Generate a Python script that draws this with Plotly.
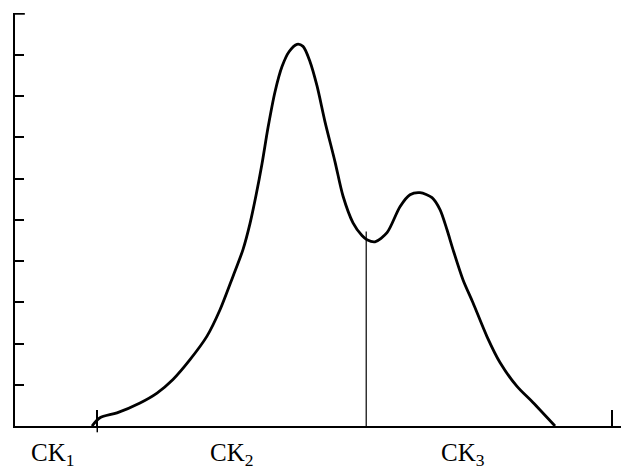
import plotly.graph_objects as go

# curve (arbitrary x units 0..100, y in tick units 0..10)
curve_x = [12.54, 13.84, 16.61, 20.36, 23.13, 25.73, 28.50, 31.27, 33.39, 35.50, 37.13,
           38.27, 39.25, 40.23, 41.21, 42.35, 43.49, 44.63, 45.93, 46.91, 48.05, 49.19,
           50.49, 52.12, 53.42, 55.05, 56.51, 57.33, 58.63, 60.59, 62.70, 64.33, 65.96,
           67.92, 69.22, 70.36, 71.34, 72.96, 74.59, 76.87, 78.99, 81.76, 84.36, 87.95]
curve_y = [0.0, 0.20, 0.32, 0.56, 0.80, 1.13, 1.61, 2.18, 2.82, 3.63, 4.28,
           4.91, 5.59, 6.36, 7.24, 8.11, 8.72, 9.08, 9.26, 9.21, 8.84, 8.25,
           7.38, 6.41, 5.58, 4.93, 4.62, 4.52, 4.47, 4.69, 5.32, 5.61, 5.66,
           5.54, 5.25, 4.76, 4.28, 3.55, 2.99, 2.17, 1.54, 0.96, 0.57, 0.0]

divider_x = [57.2, 57.2]
divider_y = [0.0, 4.72]

x_tick_vals = [13.4, 97.2]
y_tick_vals = [1, 2, 3, 4, 5, 6, 7, 8, 9, 10]

labels = ["CK<sub>1</sub>", "CK<sub>2</sub>", "CK<sub>3</sub>"]
label_x = [2.3, 31.4, 69.0]

y_top = y_tick_vals[-1]

fig = go.Figure()
fig.add_trace(go.Scatter(x=curve_x, y=curve_y, mode="lines",
                         line=dict(color="black", width=2.8, shape="spline", smoothing=0.8),
                         cliponaxis=False, hoverinfo="skip"))
fig.add_trace(go.Scatter(x=divider_x, y=divider_y, mode="lines",
                         line=dict(color="black", width=1.2), hoverinfo="skip"))
fig.add_trace(go.Scatter(x=x_tick_vals[:1], y=[0], mode="markers",
                         marker=dict(symbol="line-ns", size=9, line=dict(color="black", width=1.5)),
                         cliponaxis=False, hoverinfo="skip"))
# top end tick of the y axis (plotly drops the tick at the very end of the axis)
fig.add_trace(go.Scatter(x=[0, 1.6], y=[y_top, y_top], mode="lines",
                         line=dict(color="black", width=1.8),
                         cliponaxis=False, hoverinfo="skip"))

for t, lx in zip(labels, label_x):
    fig.add_annotation(x=lx, y=-0.068, xref="x", yref="paper", text=t, showarrow=False,
                       xanchor="left", yanchor="middle",
                       font=dict(family="Liberation Serif", size=25, color="black"))

fig.update_layout(
    width=629, height=472,
    margin=dict(l=7, r=8, t=5.2, b=53.5),
    paper_bgcolor="white", plot_bgcolor="white",
    showlegend=False,
    xaxis=dict(range=[0, 100], showgrid=False, zeroline=False, showline=True,
               linecolor="black", linewidth=1.8, ticks="inside", ticklen=16,
               tickwidth=1.5, tickcolor="black", tickvals=x_tick_vals, showticklabels=False),
    yaxis=dict(range=[0, 10.02], showgrid=False, zeroline=False, showline=True,
               linecolor="black", linewidth=1.8, ticks="inside", ticklen=9,
               tickwidth=1.5, tickcolor="black", tickvals=y_tick_vals[:-1], showticklabels=False),
)

fig.write_html("out.html")
